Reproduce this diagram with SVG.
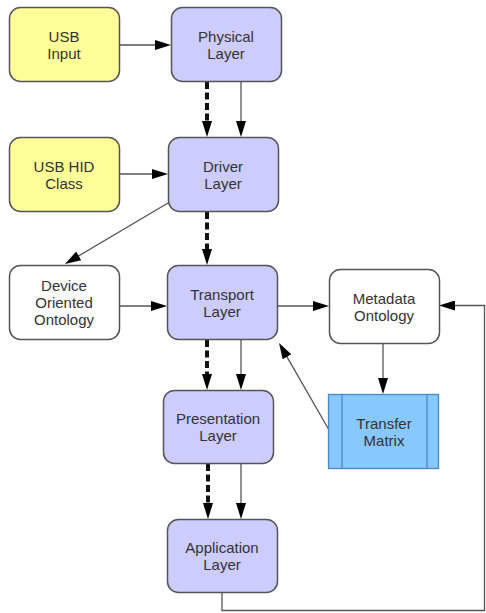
<svg xmlns="http://www.w3.org/2000/svg" width="486" height="613" viewBox="0 0 486 613">
<style>
.box{stroke:#555;stroke-width:1.5}
.y{fill:#ffff99}
.p{fill:#ccccff}
.w{fill:#ffffff}
.t{font-family:"Liberation Sans",Arial,sans-serif;font-size:15px;fill:#333;text-anchor:middle}
.c{fill:none;stroke:#555;stroke-width:1.3}
.d{fill:none;stroke:#111;stroke-width:4;stroke-dasharray:7 3.5}
</style>
<defs>
<marker id="ah" markerUnits="userSpaceOnUse" markerWidth="16" markerHeight="10" refX="4" refY="5" orient="auto">
<path d="M0,0 L16,5 L0,10 z" fill="#000"/>
</marker>
</defs>
<rect width="486" height="613" fill="#fff"/>
<g id="connectors">
<line class="c" x1="119" y1="45" x2="159" y2="45" marker-end="url(#ah)"/>
<line class="c" x1="119" y1="174" x2="156" y2="174" marker-end="url(#ah)"/>
<line class="c" x1="119" y1="306" x2="155" y2="306" marker-end="url(#ah)"/>
<line class="c" x1="278" y1="306" x2="317" y2="306" marker-end="url(#ah)"/>
<line class="c" x1="383" y1="343" x2="383" y2="382" marker-end="url(#ah)"/>
<line class="c" x1="168" y1="203" x2="75.3" y2="257.9" marker-end="url(#ah)"/>
<line class="c" x1="329" y1="430" x2="285" y2="353.4" marker-end="url(#ah)"/>
<path class="c" d="M222,592 V610.5 H484.5 V305.5 H451" marker-end="url(#ah)"/>
<line class="d" x1="207" y1="82" x2="207" y2="125" marker-end="url(#ah)"/>
<line class="d" x1="207" y1="212" x2="207" y2="253" marker-end="url(#ah)"/>
<line class="d" x1="207" y1="340" x2="207" y2="378" marker-end="url(#ah)"/>
<line class="d" x1="208" y1="464" x2="208" y2="507" marker-end="url(#ah)"/>
<line class="c" x1="241" y1="81" x2="241" y2="125" marker-end="url(#ah)"/>
<line class="c" x1="241" y1="339" x2="241" y2="378" marker-end="url(#ah)"/>
<line class="c" x1="241" y1="463" x2="241" y2="507" marker-end="url(#ah)"/>
</g>
<g id="usb-input">
<rect class="box y" x="9.5" y="7.5" width="110" height="74" rx="11"/>
<text class="t" x="64" y="42">USB</text>
<text class="t" x="64" y="58.5">Input</text>
</g>
<g id="physical-layer">
<rect class="box p" x="171.5" y="7.5" width="110" height="74" rx="11"/>
<text class="t" x="226" y="42">Physical</text>
<text class="t" x="226" y="58.5">Layer</text>
</g>
<g id="usb-hid-class">
<rect class="box y" x="9.5" y="137.5" width="110" height="74" rx="11"/>
<text class="t" x="64" y="172">USB HID</text>
<text class="t" x="64" y="188.5">Class</text>
</g>
<g id="driver-layer">
<rect class="box p" x="168.5" y="137.5" width="110" height="74" rx="11"/>
<text class="t" x="223" y="172">Driver</text>
<text class="t" x="223" y="188.5">Layer</text>
</g>
<g id="device-oriented-ontology">
<rect class="box w" x="9.5" y="265.5" width="110" height="74" rx="11"/>
<text class="t" x="64" y="290.5">Device</text>
<text class="t" x="64" y="307.5">Oriented</text>
<text class="t" x="64" y="324.5">Ontology</text>
</g>
<g id="transport-layer">
<rect class="box p" x="167.5" y="265.5" width="110" height="74" rx="11"/>
<text class="t" x="222" y="300">Transport</text>
<text class="t" x="222" y="316.5">Layer</text>
</g>
<g id="metadata-ontology">
<rect class="box w" x="329.5" y="269.5" width="110" height="74" rx="11"/>
<text class="t" x="384" y="304">Metadata</text>
<text class="t" x="384" y="320.5">Ontology</text>
</g>
<g id="transfer-matrix">
<rect x="328.5" y="394.5" width="110" height="74" fill="#87c8ff" stroke="#4a86c8" stroke-width="1.3"/>
<line x1="342" y1="394.5" x2="342" y2="468.5" stroke="#4a86c8" stroke-width="1.3"/>
<line x1="427" y1="394.5" x2="427" y2="468.5" stroke="#4a86c8" stroke-width="1.3"/>
<text class="t" x="384" y="429">Transfer</text>
<text class="t" x="384" y="445.5">Matrix</text>
</g>
<g id="presentation-layer">
<rect class="box p" x="163.5" y="390.5" width="110" height="73" rx="11"/>
<text class="t" x="218" y="424">Presentation</text>
<text class="t" x="218" y="440.5">Layer</text>
</g>
<g id="application-layer">
<rect class="box p" x="167.5" y="519.5" width="110" height="73" rx="11"/>
<text class="t" x="222" y="553">Application</text>
<text class="t" x="222" y="569.5">Layer</text>
</g>
</svg>
